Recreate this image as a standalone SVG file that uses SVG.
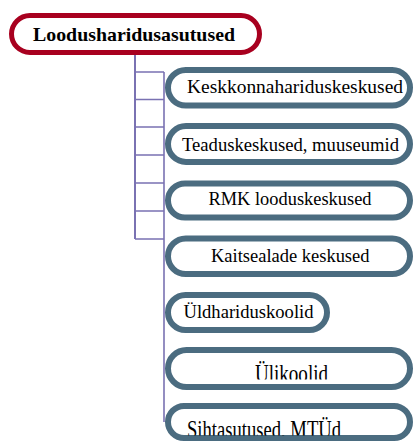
<svg xmlns="http://www.w3.org/2000/svg" width="414" height="441" viewBox="0 0 414 441">
<style>
.box{fill:#fff;stroke:#4b6c80;stroke-width:6}
.root{fill:#fff;stroke:#a8001f;stroke-width:5}
.t{font-family:"Liberation Serif","Times New Roman",serif;font-size:19px;fill:#000}
.rt{font-family:"Liberation Serif","Times New Roman",serif;font-size:19px;font-weight:bold;fill:#000}
.c{fill:none;stroke:#7a72b2;stroke-width:1.6}
</style>
<defs>
<clipPath id="c6"><rect x="170" y="350" width="240" height="29.5"/></clipPath>
<clipPath id="c7"><rect x="170" y="406" width="240" height="29.5"/></clipPath>
</defs>
<g id="connectors">
<path class="c" style="stroke-width:2" d="M135 55V239"/>
<path class="c" d="M135 72H164M135 99.5H164M135 127H164M135 155H164M135 183H164M135 211H164M135 239H164M164 72V422"/>
</g>
<g id="root">
<rect class="root" x="11.5" y="15.5" width="248" height="37" rx="18.5"/>
<text class="rt" x="33" y="40.7" textLength="202" lengthAdjust="spacingAndGlyphs">Loodusharidusasutused</text>
</g>
<g id="n1">
<rect class="box" x="168" y="70" width="242" height="35.5" rx="17.75"/>
<text class="t" x="187" y="93.3" textLength="216" lengthAdjust="spacingAndGlyphs">Keskkonnahariduskeskused</text>
</g>
<g id="n2">
<rect class="box" x="168" y="126" width="242" height="36" rx="18"/>
<text class="t" x="182" y="150.7" textLength="217" lengthAdjust="spacingAndGlyphs">Teaduskeskused, muuseumid</text>
</g>
<g id="n3">
<rect class="box" x="168" y="183.5" width="242" height="34" rx="17"/>
<text class="t" x="208.5" y="205" textLength="163" lengthAdjust="spacingAndGlyphs">RMK looduskeskused</text>
</g>
<g id="n4">
<rect class="box" x="168" y="238.5" width="242" height="35.5" rx="17.75"/>
<text class="t" x="211" y="261.7" textLength="158.5" lengthAdjust="spacingAndGlyphs">Kaitsealade keskused</text>
</g>
<g id="n5">
<rect class="box" x="168" y="295" width="159" height="35" rx="17.5"/>
<text class="t" x="183.5" y="318.3" textLength="130" lengthAdjust="spacingAndGlyphs">Üldhariduskoolid</text>
</g>
<g id="n6">
<rect class="box" x="168" y="350" width="242" height="37" rx="18.5"/>
<g clip-path="url(#c6)">
<text class="t" x="255" y="382" textLength="73" lengthAdjust="spacingAndGlyphs" transform="translate(0,382) scale(1,1.3) translate(0,-382)">Ülikoolid</text>
</g>
</g>
<g id="n7">
<rect class="box" x="168" y="406" width="242" height="32" rx="16"/>
<g clip-path="url(#c7)">
<text class="t" x="187" y="438" textLength="154" lengthAdjust="spacingAndGlyphs" transform="translate(0,438) scale(1,1.3) translate(0,-438)">Sihtasutused, MTÜd</text>
</g>
</g>
</svg>
